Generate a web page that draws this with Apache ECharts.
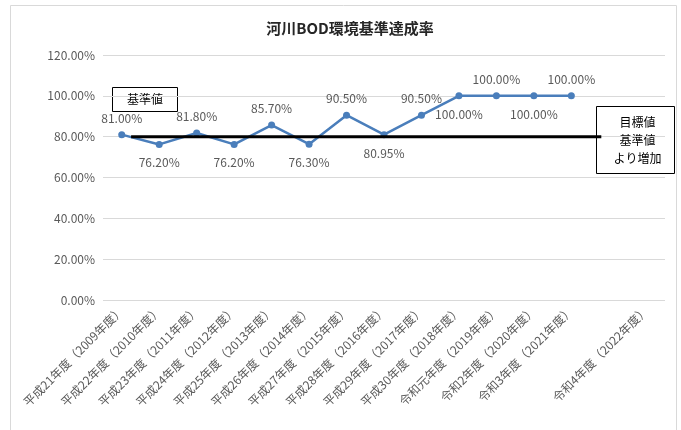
<!DOCTYPE html>
<html>
<head>
<meta charset="utf-8">
<script src="https://cdn.jsdelivr.net/npm/echarts@6/dist/echarts.min.js"></script>
<style>
    html,body{margin:0;padding:0;background:#fff;}
    #main{width:681px;height:430px;}
</style>
</head>
<body>
<div id="main"></div>
<script>
    // 年度（最後の空欄はグラフ上の間隔）
    var years = [
        '平成21年度（2009年度）','平成22年度（2010年度）','平成23年度（2011年度）',
        '平成24年度（2012年度）','平成25年度（2013年度）','平成26年度（2014年度）',
        '平成27年度（2015年度）','平成28年度（2016年度）','平成29年度（2017年度）',
        '平成30年度（2018年度）','令和元年度（2019年度）','令和2年度（2020年度）',
        '令和3年度（2021年度）','','令和4年度（2022年度）'
    ];
    var rates = [81.00,76.20,81.80,76.20,85.70,76.30,90.50,80.95,90.50,100,100,100,100];
    var yTicks = [0,20,40,60,80,100,120];
    var baseValue = 80;          // 基準値
    var baseSpan = [0.75,13.3];  // 基準値線の範囲（カテゴリ単位）

    var font = '"Noto Sans CJK JP","Noto Sans",sans-serif';
    var grey = '#595959';

    var chart = echarts.init(document.getElementById('main'));

    // ラベルは上下交互
    var rateData = rates.map(function(v,i){
        return {
            value:v,
            label:{position: i%2===0 ? 'top' : 'bottom', distance: i%2===0 ? 7 : 9}
        };
    });

    var option = {
        animation:false,
        title:{
            text:'河川BOD環境基準達成率',
            left:345,
            textAlign:'center',
            top:16,
            textStyle:{fontFamily:font,fontSize:15,fontWeight:'bold',color:'#262626'}
        },
        grid:{left:103,right:16,top:55,bottom:130,containLabel:false},
        xAxis:[{
            type:'category',
            data:years,
            boundaryGap:true,
            axisLine:{show:false},
            axisTick:{show:false},
            axisLabel:{rotate:45,interval:0,fontFamily:font,fontSize:12,color:grey,margin:8}
        },{
            type:'value',
            min:0,
            max:years.length,
            show:false
        }],
        yAxis:{
            type:'value',
            min:yTicks[0],
            max:yTicks[yTicks.length-1],
            interval:yTicks[1]-yTicks[0],
            axisLine:{show:false},
            axisTick:{show:false},
            axisLabel:{
                fontFamily:font,fontSize:12,color:grey,margin:8,
                formatter:function(v){return v.toFixed(2)+'%';}
            },
            splitLine:{lineStyle:{color:'#d9d9d9',width:1}}
        },
        series:[{
            name:'達成率',
            type:'line',
            data:rateData,
            symbol:'circle',
            symbolSize:7,
            itemStyle:{color:'#4a7ebb'},
            lineStyle:{color:'#4a7ebb',width:2.5},
            label:{
                show:true,
                fontFamily:font,fontSize:12,color:grey,
                formatter:function(p){return p.value.toFixed(2)+'%';}
            },
            z:2
        },{
            name:'基準値',
            type:'line',
            xAxisIndex:1,
            data:[[baseSpan[0],baseValue],[baseSpan[1],baseValue]],
            symbol:'none',
            lineStyle:{color:'#000',width:3},
            z:5,
            silent:true
        }],
        graphic:[{
            type:'rect',
            shape:{x:10.5,y:5.5,width:666,height:440},
            style:{fill:'none',stroke:'#d9d9d9',lineWidth:1},
            z:0
        },{
            type:'group',
            left:112,top:87,z:10,
            children:[{
                type:'rect',
                shape:{x:0,y:0,width:65,height:24},
                style:{fill:'#fff',stroke:'#000',lineWidth:1}
            },{
                type:'text',
                x:32.5,y:12,
                style:{text:'基準値',fontFamily:font,fontSize:12,fill:'#000',align:'center',verticalAlign:'middle'}
            }]
        },{
            type:'group',
            left:596,top:106,z:10,
            children:[{
                type:'rect',
                shape:{x:0,y:0,width:78,height:67},
                style:{fill:'#fff',stroke:'#000',lineWidth:1}
            },{
                type:'text',
                x:41,y:34,
                style:{text:'目標値\n基準値\nより増加',fontFamily:font,fontSize:12,lineHeight:18,fill:'#000',align:'center',verticalAlign:'middle'}
            }]
        }]
    };

    chart.setOption(option);
    window.addEventListener('resize',chart.resize);
</script>
</body>
</html>
